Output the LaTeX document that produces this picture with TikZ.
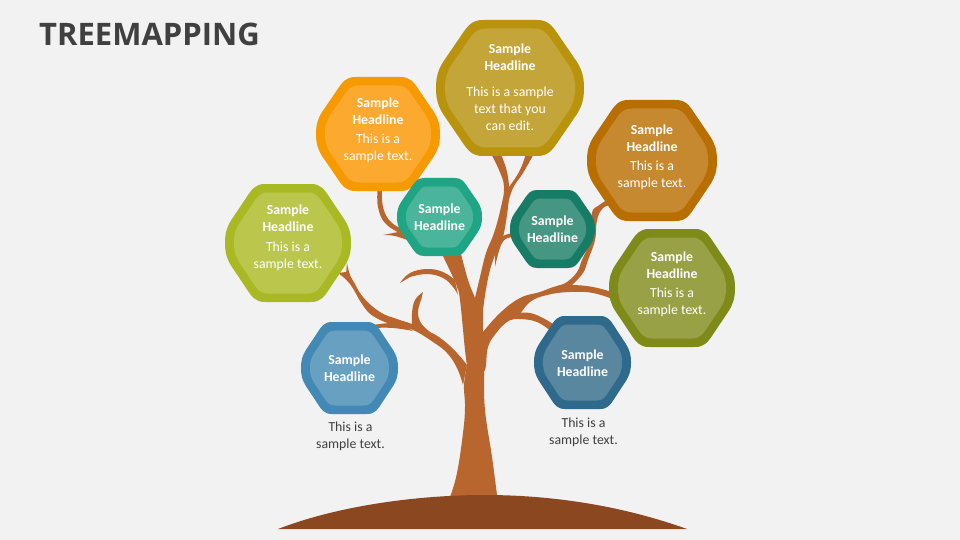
\documentclass[tikz,border=0pt]{standalone}
\usepackage{fontspec}
\setmainfont{Carlito}
\newfontfamily\titlefont{Open Sans}
\usetikzlibrary{positioning}

\definecolor{pagegray}{HTML}{F2F2F2}
\definecolor{barkcolor}{HTML}{B9662E}
\definecolor{groundcolor}{HTML}{8B471F}
\definecolor{inkcolor}{HTML}{404040}

\begin{document}
\begin{tikzpicture}[x=1pt,y=-1pt]
	
		\tikzset{titlestyle/.style={anchor=west,inner sep=0pt,text=inkcolor,font=\titlefont\bfseries\fontsize{31}{36}\selectfont}}
		\tikzset{hexstyle/.style={align=center,inner sep=0pt,text=white,font=\fontsize{13.8}{17}\selectfont}}
		\tikzset{notestyle/.style={align=center,inner sep=0pt,text=inkcolor,font=\fontsize{13.8}{17}\selectfont}}
		\tikzset{limbstyle/.style={fill=barkcolor}}
		
		\newcommand\limb[2] % {edge out}{edge back}
		{
			\fill[limbstyle] plot[smooth,tension=0.7] coordinates {#1}
			-- plot[smooth,tension=0.7] coordinates {#2} -- cycle;
		}
		
		\newcommand\hexShape[5] % {x}{y}{half width}{half height}{colour}
		{
			\fill[#5,shift={(#1,#2)},xscale=#3,yscale=#4]
			(-1,0) .. controls (-1,-.17) and (-.97,-.27) .. (-.9,-.39) -- (-.68,-.74)
			.. controls (-.57,-.92) and (-.52,-1) .. (-.36,-1) -- (.36,-1)
			.. controls (.52,-1) and (.57,-.92) .. (.68,-.74) -- (.9,-.39)
			.. controls (.97,-.27) and (1,-.17) .. (1,0)
			.. controls (1,.17) and (.97,.27) .. (.9,.39) -- (.68,.74)
			.. controls (.57,.92) and (.52,1) .. (.36,1) -- (-.36,1)
			.. controls (-.52,1) and (-.57,.92) .. (-.68,.74) -- (-.9,.39)
			.. controls (-.97,.27) and (-1,.17) .. (-1,0) -- cycle;
		}
		
		\newcommand\hexNode[9] % {name}{x}{y}{half width}{half height}{dark}{light}{text}{text shift}
		{
			\definecolor{hexdark}{HTML}{#6}
			\definecolor{hexlight}{HTML}{#7}
			\hexShape{#2}{#3}{#4}{#5}{hexdark}
			\hexShape{#2}{#3}{#4-9}{#5-8.5}{hexlight}
			\node[hexstyle] at (#2,#3+#9) (#1) {#8};
		}
		
		\newcommand\head{\textbf{Sample}\\\textbf{Headline}}
		
		\fill[pagegray] (0,0) rectangle (960,540);
		\useasboundingbox (0,0) rectangle (960,540);
		
		\node[titlestyle] at (39,34) (title) {TREEMAPPING};
		
		% trunk and the thick limbs
		\limb{(450,497)(457,473)(463,433)(465,407)(464,385)(467,365)}{(483,310)(483,330)(484,373)(485,410)(492,457)(497,495)}
		\limb{(467,365)(465,350)(460,300)(457,287)(452,275)(440,250)}{(460,250)(468,280)(475,298)(483,320)}
		\limb{(475,298)(480,277)(486,253)(494,233)(501,207)(504,187)(499,170)(489,150)}{(499,150)(506,168)(509,187)(508,207)(503,237)(497,250)(490,270)(485,295)(483,310)(483,332)}
		\limb{(509,187)(520,170)(527,150)}{(536,150)(523,173)(513,188)(507,207)}
		\limb{(466,372)(469,365)}{(480,370)(474,396)(467,396)}
		
		% right side
		\limb{(483,332)(500,313)(520,298)(540,292)(557,286)(572,285)(593,287)(615,293)}{(615,300)(593,293)(570,292)(547,295)(530,302)(518,316)(507,322)(497,332)(488,347)(484,372)(470,376)}
		\limb{(518,313)(530,313)(543,318)(556,326)}{(552,332)(537,322)(520,319)(510,320)}
		\limb{(557,286)(567,282)(577,272)(582,260)(590,240)(592,213)(598,206)(607,200)}{(612,205)(603,208)(597,220)(595,240)(588,260)(583,273)(572,285)}
		\limb{(520,232)(512,233)(500,238)(495,248)}{(495,267)(502,243)(512,237)(520,237)}
		
		% left side
		\limb{(346,272)(352,279)(363,297)(380,312)(397,319)(412,324)(430,332)(443,340)(457,353)(467,365)}{(463,385)(457,368)(447,353)(433,342)(413,330)(393,325)(373,316)(362,304)(350,284)(338,273)}
		\limb{(347,263)(349,272)(352,280)}{(350,283)(346,274)}
		\limb{(412,326)(412,313)(415,300)(423,292)}{(421,300)(418,312)(421,323)(430,332)}
		\limb{(365,326)(372,325)(393,323)(405,326)}{(413,331)(393,328)(373,328)(365,329)}
		\limb{(400,283)(410,273)(427,269)(443,272)(455,280)}{(458,295)(453,287)(443,278)(427,274)(410,277)}
		\limb{(378,185)(378,207)(387,225)(410,238)}{(410,232)(392,223)(383,207)(382,185)}
		\limb{(383,235)(395,236)(410,241)}{(410,230)(398,232)}
		
		\fill[groundcolor] (278,529) .. controls (340,505) and (420,495) .. (485,495)
		.. controls (550,495) and (620,505) .. (687,529) -- cycle;
		
		\hexNode{hexTop}{510}{88}{74}{68}{B8930B}{C3A53A}{\head\\[9pt]This is a sample\\text that you\\can edit.}{-1}
		\hexNode{hexOrange}{378}{134}{62}{57}{F79A00}{FBA92F}{\head\\[2pt]This is a\\sample text.}{-4}
		\hexNode{hexLime}{288}{243}{63}{59}{A9B923}{BAC74C}{\head\\[3pt]This is a\\sample text.}{-5}
		\hexNode{hexTeal}{439.5}{217}{42.5}{39}{20A584}{4BB59C}{\head}{0}
		\hexNode{hexSea}{552.5}{229}{42.5}{39}{167C66}{459682}{\head}{0}
		\hexNode{hexAmber}{652}{160.5}{65}{60.5}{B96E00}{C68930}{\head\\[2pt]This is a\\sample text.}{-3.5}
		\hexNode{hexOlive}{672}{288}{63}{59}{7F8B18}{98A146}{\head\\[2pt]This is a\\sample text.}{-4}
		\hexNode{hexBlue}{349.5}{368}{48.5}{46}{428AB5}{68A0C2}{\head}{0}
		\hexNode{hexNavy}{582.5}{362.5}{48.5}{46.5}{2F6A8C}{5A87A0}{\head}{0.5}
		
		\node[notestyle,below=54pt of hexBlue.center,xshift=1pt] (noteBlue) {This is a\\sample text.};
		\node[notestyle,below=54.5pt of hexNavy.center,xshift=1pt] (noteNavy) {This is a\\sample text.};
	\end{tikzpicture}
\end{document}
